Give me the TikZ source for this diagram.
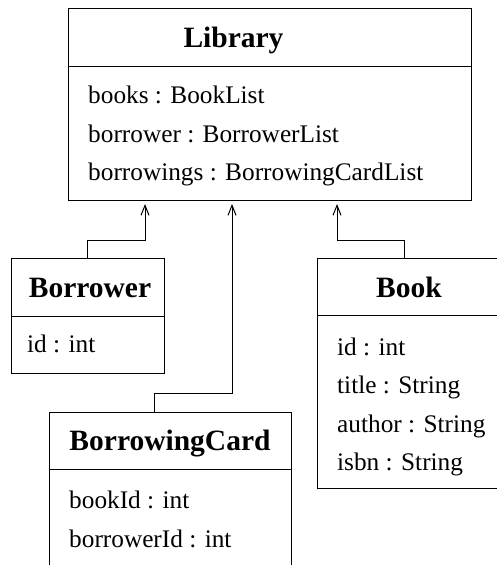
\documentclass[tikz,border=0pt]{standalone}
\usepackage{fontspec}
\setmainfont{Liberation Serif}
\usetikzlibrary{arrows.meta,calc}
\begin{document}
\begin{tikzpicture}[x=1pt,y=1pt,
  box/.style={draw, line width=1pt, anchor=north west, inner sep=0pt},
  ttl/.style={anchor=base, inner sep=0pt, font=\fontsize{29.5}{30}\selectfont\bfseries},
  att/.style={anchor=base west, inner sep=0pt, font=\fontsize{25.3}{26}\selectfont},
  sep/.style={line width=1pt},
  arr/.style={line width=1pt, -{Straight Barb[length=10pt,width=8pt,line width=1pt]}}]
\useasboundingbox (0,0) rectangle (497,-565);
\begin{scope}
\clip (0,0) rectangle (497,-565);
% Library
\node[box, minimum width=403pt, minimum height=192pt] (lib) at (68,-8) {};
\draw[sep] (lib.west |- 0,-66) -- (lib.east |- 0,-66);
\node[ttl] (libt) at (233.5,-47) {Library};
\node[att] (liba1) at (88,-103) {books : BookList};
\node[att] (liba2) at (88,-142) {borrower : BorrowerList};
\node[att] (liba3) at (88,-180) {borrowings : BorrowingCardList};
% Borrower
\node[box, minimum width=153pt, minimum height=115pt] (bor) at (11,-258) {};
\draw[sep] (bor.west |- 0,-316) -- (bor.east |- 0,-316);
\node[ttl] (bort) at (90,-297) {Borrower};
\node[att] (bora1) at (27,-352) {id : int};
% Book
\node[box, minimum width=184pt, minimum height=230pt] (book) at (317,-258) {};
\draw[sep] (book.west |- 0,-315) -- (book.east |- 0,-315);
\node[ttl] (bookt) at (409,-297) {Book};
\node[att] (booka1) at (337,-355) {id : int};
\node[att] (booka2) at (337,-393) {title : String};
\node[att] (booka3) at (337,-432) {author : String};
\node[att] (booka4) at (337,-470) {isbn : String};
% BorrowingCard
\node[box, minimum width=242pt, minimum height=170pt] (bc) at (49,-412) {};
\draw[sep] (bc.west |- 0,-469) -- (bc.east |- 0,-469);
\node[ttl] (bct) at (170,-450) {BorrowingCard};
\node[att] (bca1) at (69,-508) {bookId : int};
\node[att] (bca2) at (69,-547) {borrowerId : int};
% connectors
\coordinate (t1) at ($(lib.south west)+(77,-3)$);
\coordinate (t2) at ($(lib.south west)+(164,-3)$);
\coordinate (t3) at ($(lib.south west)+(269,-3)$);
\draw[arr] ($(bor.north west)+(76,0)$) |- ($(t1)+(0,-36)$) -- (t1);
\draw[arr] ($(bc.north west)+(105,0)$) |- ($(t2)+(0,-189)$) -- (t2);
\draw[arr] ($(book.north west)+(87,0)$) |- ($(t3)+(0,-36)$) -- (t3);
\end{scope}
\end{tikzpicture}
\end{document}
